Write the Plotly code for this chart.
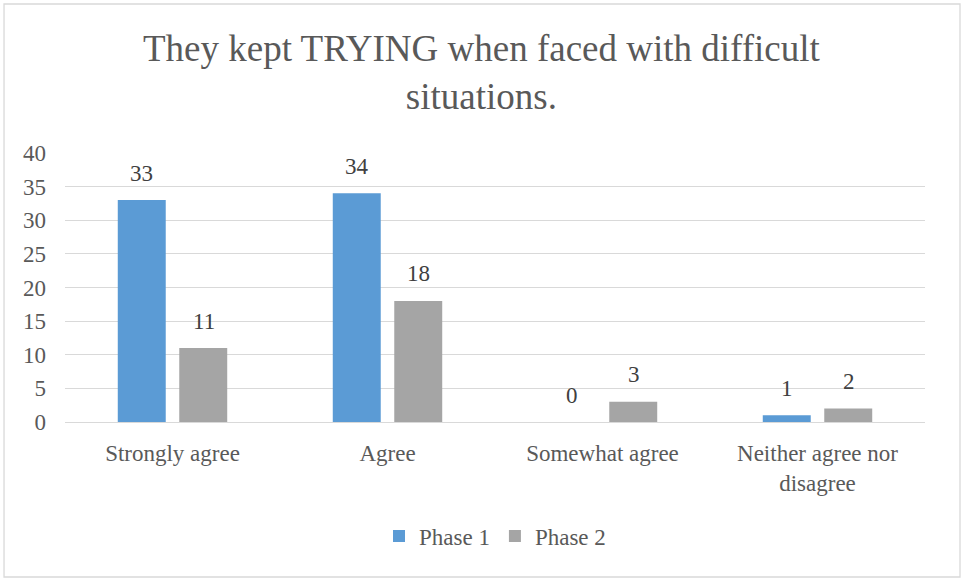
import plotly.graph_objects as go

categories = ["Strongly agree", "Agree", "Somewhat agree", "Neither agree nor<br>disagree"]
phase1 = [33, 34, 0, 1]
phase2 = [11, 18, 3, 2]
series_names = ["Phase 1", "Phase 2"]
colors = ["#5B9BD5", "#A5A5A5"]
y_ticks = [0, 5, 10, 15, 20, 25, 30, 35, 40]
title_text = "They kept TRYING when faced with difficult<br>situations."

FONT = "Liberation Serif, Times New Roman, serif"
PLOT_TOP, PLOT_BOTTOM = 153, 422
PLOT_H = PLOT_BOTTOM - PLOT_TOP


def paper_y(px):
    return (PLOT_BOTTOM - px) / PLOT_H


fig = go.Figure()
for name, vals, col in zip(series_names, [phase1, phase2], colors):
    fig.add_trace(go.Bar(
        x=categories, y=vals, name=name, marker_color=col,
        marker_line_width=0,
    ))

# value labels above each bar
for cat, v1, v2 in zip(categories, phase1, phase2):
    for v, dx in ((v1, -31), (v2, 31)):
        fig.add_annotation(
            x=cat, y=v, text=str(v), showarrow=False, xshift=dx, yshift=27,
            yanchor="middle", font=dict(family=FONT, size=23, color="#404040"),
        )

# two-line chart title
fig.add_annotation(
    xref="paper", yref="paper", x=(482 - 65) / 860, y=paper_y(73),
    text=title_text, showarrow=False, xanchor="center", yanchor="middle",
    font=dict(family=FONT, size=37, color="#595959"),
)

# chart frame
fig.add_shape(type="rect", xref="paper", yref="paper",
              x0=-0.0709, x1=1.0407, y0=paper_y(577), y1=paper_y(4),
              line=dict(color="#D9D9D9", width=1.3), fillcolor="rgba(0,0,0,0)")

fig.update_layout(
    width=964, height=581,
    margin=dict(l=65, r=39, t=PLOT_TOP, b=581 - PLOT_BOTTOM),
    paper_bgcolor="white", plot_bgcolor="white",
    barmode="group", bargap=0.428, bargroupgap=0.22,
    font=dict(family=FONT, size=23, color="#595959"),
    xaxis=dict(
        showgrid=False, showline=True, linecolor="#D9D9D9", linewidth=1.3,
        ticks="", ticklabelstandoff=10,
        tickfont=dict(family=FONT, size=23, color="#595959"),
    ),
    yaxis=dict(
        range=[0, 40], tickvals=y_ticks, showgrid=True, gridcolor="#D9D9D9",
        gridwidth=1.3, zeroline=False, showline=False, ticks="",
        ticklabelstandoff=18,
        tickfont=dict(family=FONT, size=23, color="#595959"),
    ),
    legend=dict(
        orientation="h", x=0.5, xanchor="center", y=paper_y(536), yanchor="middle",
        font=dict(family=FONT, size=23, color="#595959"),
        itemwidth=30, traceorder="normal",
    ),
)

fig.write_html("out.html")
